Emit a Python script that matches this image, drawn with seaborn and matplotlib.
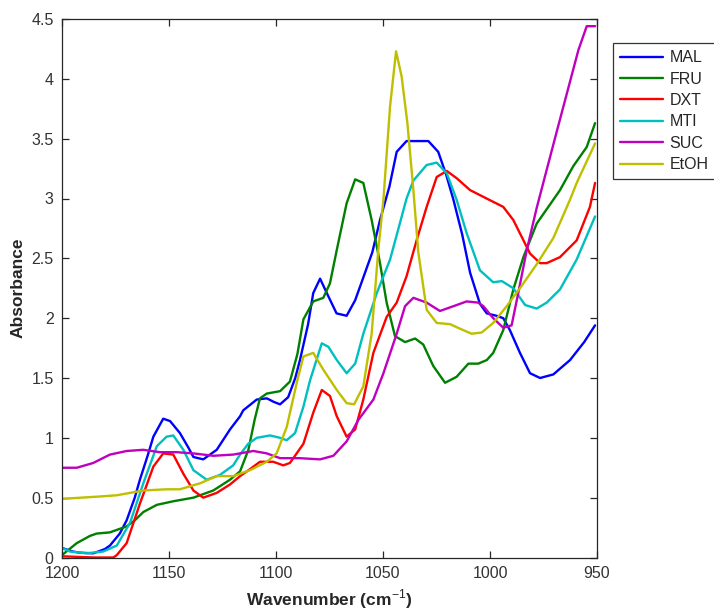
import matplotlib
matplotlib.use("Agg")
import matplotlib.pyplot as plt
import numpy as np
import pandas as pd
import seaborn as sns
from matplotlib.ticker import FuncFormatter, MultipleLocator

# --- data (wavenumber in cm-1, absorbance) ---
mal_wn = [1200, 1195, 1191.6, 1185.4, 1180, 1177.6, 1173, 1169.8, 1166, 1163.6, 1160, 1157.3,
          1152.7, 1149.5, 1144.9, 1141, 1138.6, 1134, 1127.7, 1121.5, 1116.8, 1115.3, 1109, 1104.3,
          1101, 1098.1, 1094.3, 1091, 1088.8, 1085, 1082.6, 1079.4, 1076, 1071.7, 1067, 1063, 1059,
          1055, 1051.4, 1047, 1043.6, 1039, 1034, 1028.8, 1024.2, 1020.5, 1017.1, 1013, 1009.3,
          1004.7, 1001.5, 997, 993.8, 990.7, 986, 981.3, 976.6, 970.4, 962.6, 956, 950.9]
mal_abs = [0.08, 0.05, 0.04, 0.035, 0.07, 0.1, 0.2, 0.31, 0.5, 0.65, 0.85, 1.01,
           1.16, 1.14, 1.04, 0.92, 0.84, 0.82, 0.9, 1.07, 1.18, 1.23, 1.32, 1.33,
           1.3, 1.28, 1.34, 1.5, 1.65, 1.95, 2.21, 2.33, 2.2, 2.04, 2.02, 2.15, 2.35,
           2.55, 2.82, 3.1, 3.39, 3.48, 3.48, 3.48, 3.39, 3.2, 2.99, 2.7, 2.38,
           2.12, 2.04, 2.02, 2.0, 1.9, 1.71, 1.54, 1.5, 1.53, 1.65, 1.8, 1.94]

fru_wn = [1200, 1193.1, 1187, 1183.8, 1177.6, 1169.8, 1166, 1162, 1155.7, 1148, 1138.6, 1129.3,
          1121.5, 1116.8, 1112.9, 1110, 1107.5, 1104.3, 1098.1, 1093.5, 1090, 1087.2, 1082.6, 1077.9,
          1074.8, 1071.6, 1067, 1063, 1059.2, 1055.3, 1051.4, 1048.3, 1044.4, 1039.7, 1035, 1031.2,
          1026.5, 1021, 1015.6, 1010.1, 1005.5, 1001.5, 998.5, 993.8, 989.1, 984.4, 978.2, 970.4,
          967.3, 961.1, 954.8, 950.9]
fru_abs = [0.02, 0.12, 0.18, 0.2, 0.21, 0.26, 0.31, 0.38, 0.44, 0.47, 0.5, 0.56,
           0.65, 0.72, 0.9, 1.15, 1.33, 1.37, 1.39, 1.47, 1.7, 1.99, 2.14, 2.17,
           2.29, 2.57, 2.96, 3.16, 3.13, 2.82, 2.46, 2.13, 1.85, 1.8, 1.83, 1.78,
           1.6, 1.46, 1.51, 1.62, 1.62, 1.65, 1.71, 1.9, 2.24, 2.51, 2.79, 2.99,
           3.07, 3.27, 3.43, 3.63]

dxt_wn = [1200, 1185, 1176, 1174.4, 1169.8, 1163.6, 1157.3, 1152.7, 1148, 1143.3, 1138.6, 1134,
          1127.7, 1121.5, 1116.8, 1112, 1107.5, 1101.3, 1096.6, 1093.5, 1087.2, 1082.6, 1078.6,
          1074.8, 1071.6, 1067, 1063, 1059.2, 1054.5, 1048.3, 1043.6, 1039, 1034.3, 1029.6, 1024.9,
          1020.2, 1015.6, 1009.3, 1001.6, 993.8, 989.1, 981.3, 976.6, 973.5, 967.3, 959.5, 953.3,
          950.9]
dxt_abs = [0.01, 0.0, 0.0, 0.02, 0.12, 0.45, 0.76, 0.87, 0.86, 0.7, 0.56, 0.5,
           0.54, 0.61, 0.68, 0.74, 0.8, 0.8, 0.77, 0.79, 0.95, 1.21, 1.4,
           1.35, 1.18, 1.01, 1.07, 1.32, 1.71, 2.01, 2.13, 2.35, 2.65, 2.93, 3.18,
           3.23, 3.17, 3.07, 3.0, 2.93, 2.82, 2.54, 2.46, 2.46, 2.51, 2.65, 2.93,
           3.13]

mti_wn = [1200, 1196.3, 1188.5, 1180.7, 1174.4, 1168.2, 1162, 1155.7, 1151.1, 1148, 1143.3,
          1138.6, 1132.4, 1126.2, 1120, 1116.8, 1113, 1109, 1102.8, 1098.1, 1095, 1091.1, 1087.2,
          1084.1, 1078.6, 1075.5, 1071.6, 1067, 1063, 1059.2, 1052.9, 1046.7, 1042, 1039, 1035.8,
          1029.6, 1024.9, 1020.2, 1015.6, 1010.9, 1004.7, 998.5, 994.5, 989.1, 983.6, 978.2, 973.5,
          967.3, 959.5, 950.9]
mti_abs = [0.08, 0.05, 0.035, 0.05, 0.1, 0.29, 0.62, 0.93, 1.01, 1.02, 0.9,
           0.73, 0.65, 0.69, 0.77, 0.86, 0.95, 1.0, 1.02, 1.0, 0.98, 1.04, 1.26,
           1.48, 1.79, 1.76, 1.65, 1.54, 1.62, 1.87, 2.21, 2.49, 2.8, 3.0, 3.15,
           3.28, 3.3, 3.21, 2.99, 2.71, 2.4, 2.3, 2.31, 2.25, 2.11, 2.08, 2.13,
           2.24, 2.49, 2.85]

suc_wn = [1200, 1193.1, 1185.4, 1177.6, 1169.8, 1162, 1154.2, 1146.4, 1138.6, 1129.3, 1120,
          1110.6, 1104.3, 1098.1, 1088.8, 1079.4, 1073.2, 1067, 1061.5, 1054.5, 1049.8, 1043.6,
          1039.7, 1035.8, 1029.6, 1023.4, 1017.1, 1010.9, 1005.5, 1003.1, 998.5, 993.8, 989.9,
          986.8, 982.8, 978.2, 968.8, 958.7, 954.8, 950.9]
suc_abs = [0.75, 0.75, 0.79, 0.86, 0.89, 0.9, 0.88, 0.88, 0.87, 0.85, 0.86,
           0.89, 0.87, 0.83, 0.83, 0.82, 0.85, 0.97, 1.15, 1.32, 1.54, 1.87,
           2.1, 2.17, 2.13, 2.06, 2.1, 2.14, 2.13, 2.1, 2.0, 1.92, 1.94,
           2.21, 2.57, 2.92, 3.56, 4.24, 4.44, 4.44]

etoh_wn = [1200, 1182.2, 1174.4, 1162, 1151.1, 1144.9, 1135.5, 1127.7, 1120, 1112.1, 1104.3,
           1099.7, 1095, 1090.3, 1087.2, 1082.6, 1077.9, 1071.6, 1067, 1063.5, 1059.2, 1055.3,
           1052.2, 1049.8, 1046.7, 1043.9, 1041.3, 1038.6, 1035.8, 1033.5, 1029.6, 1024.9, 1018.7,
           1012.5, 1008.6, 1003.9, 998.5, 992.2, 986, 978.2, 970.4, 962.6, 959.5, 950.9]
etoh_abs = [0.49, 0.51, 0.52, 0.56, 0.57, 0.57, 0.62, 0.68, 0.68, 0.73, 0.8,
            0.87, 1.09, 1.46, 1.68, 1.71, 1.57, 1.4, 1.29, 1.28, 1.43, 1.87,
            2.57, 2.99, 3.77, 4.23, 4.02, 3.63, 3.07, 2.55, 2.07, 1.96, 1.95,
            1.9, 1.87, 1.88, 1.96, 2.1, 2.25, 2.45, 2.67, 2.99, 3.13, 3.46]

names = ["MAL", "FRU", "DXT", "MTI", "SUC", "EtOH"]
colors = ["#0000ff", "#008000", "#ff0000", "#00bfbf", "#bf00bf", "#bfbf00"]

series = {
    "MAL": (mal_wn, mal_abs),
    "FRU": (fru_wn, fru_abs),
    "DXT": (dxt_wn, dxt_abs),
    "MTI": (mti_wn, mti_abs),
    "SUC": (suc_wn, suc_abs),
    "EtOH": (etoh_wn, etoh_abs),
}

rows = []
for name in names:
    wn, ab = series[name]
    for w, a in zip(wn, ab):
        rows.append({"wavenumber": w, "absorbance": a, "sample": name})
df = pd.DataFrame(rows)

sns.set_theme(style="white")
plt.rcParams["font.family"] = ["Liberation Sans", "DejaVu Sans"]
plt.rcParams["mathtext.fontset"] = "custom"
plt.rcParams["mathtext.rm"] = "Liberation Sans"
plt.rcParams["mathtext.bf"] = "Liberation Sans:bold"
# matlab-like box ticks pointing inward on all four sides
plt.rcParams.update({
    "xtick.bottom": True, "xtick.top": True, "ytick.left": True, "ytick.right": True,
    "xtick.direction": "in", "ytick.direction": "in",
    "xtick.major.size": 5, "ytick.major.size": 5,
    "xtick.major.width": 0.9, "ytick.major.width": 0.9,
})

fig = plt.figure(figsize=(7.14, 6.12), dpi=100)
ax = fig.add_axes([62 / 714, 1 - 557.5 / 612, (597 - 62) / 714, (557.5 - 19) / 612])

sns.lineplot(
    data=df,
    x="wavenumber",
    y="absorbance",
    hue="sample",
    hue_order=names,
    palette=dict(zip(names, colors)),
    estimator=None,
    sort=False,
    linewidth=1.7,
    ax=ax,
)
# EtOH looks a bit heavier in the reference
for line in ax.get_lines():
    if line.get_label() == "EtOH":
        line.set_linewidth(2.3)

ax.set_xlim(1200, 950)
ax.set_ylim(0, 4.5)
ax.xaxis.set_major_locator(MultipleLocator(50))
ax.yaxis.set_major_locator(MultipleLocator(0.5))
ax.yaxis.set_major_formatter(FuncFormatter(lambda v, p: f"{v:g}"))
ax.tick_params(which="major", direction="in", length=5, width=0.9, bottom=True, left=True,
               top=True, right=True, labelsize=11.5, labelcolor="#333333", color="#262626",
               pad=6)
for sp in ax.spines.values():
    sp.set_color("#262626")
    sp.set_linewidth(0.9)

ax.set_xlabel("Wavenumber (cm$^{-1}$)", fontsize=12.5, fontweight="bold", labelpad=5)
ax.set_ylabel("Absorbance", fontsize=12.5, fontweight="bold", labelpad=4)

handles, labels = ax.get_legend_handles_labels()
if ax.legend_:
    ax.legend_.remove()
leg = fig.legend(
    handles, labels,
    loc="upper left",
    bbox_to_anchor=(613 / 714, 1 - 43 / 612),
    frameon=True,
    fancybox=False,
    edgecolor="black",
    fontsize=11.5,
    handlelength=2.7,
    handletextpad=0.4,
    labelspacing=0.4,
    borderpad=0.45,
    borderaxespad=0,
)
leg.get_frame().set_linewidth(0.9)
for h in leg.get_lines():
    h.set_linewidth(1.7)

fig.savefig("out.png", dpi=100)
